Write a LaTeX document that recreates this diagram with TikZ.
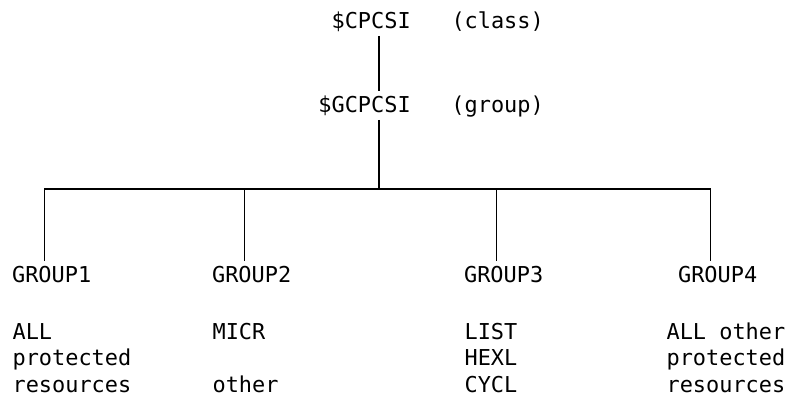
\documentclass[tikz,border=0pt]{standalone}
\usepackage{fontspec}
\setmonofont{DejaVu Sans Mono}
\usetikzlibrary{positioning}
\tikzset{
	lbl/.style = {font=\ttfamily\fontsize{21.9}{26.5}\selectfont, inner xsep=0pt, inner ysep=4pt, anchor=base west},
	desc/.style = {lbl, align=left}
}

\begin{document}
\begin{tikzpicture}[x=1pt, y=-1pt, line width=1.2pt]
\useasboundingbox (0,0) rectangle (787,402);

% NODES

% class, group
\node (cpcsi) [lbl] at (331,28) {\$CPCSI};
\node (classlbl) [lbl, right=39.6pt of cpcsi.base east, anchor=base west] {(class)};
\node (gcpcsi) [lbl] at (317.8,112) {\$GCPCSI};
\node (grouplbl) [lbl, right=39.6pt of gcpcsi.base east, anchor=base west] {(group)};
\coordinate (bus) at (379,189);

% groups
\node (g1) [lbl] at (11.5,282) {GROUP1};
\node (g2) [lbl] at (211.5,282) {GROUP2};
\node (g3) [lbl] at (463.5,282) {GROUP3};
\node (g4) [lbl] at (677.5,282) {GROUP4};

% resources (base = last line)
\node (g1res) [desc] at (12,392) {ALL\\protected\\resources};
\node (g2res) [desc] at (212,392) {MICR\\[26.5pt]other};
\node (g3res) [desc] at (464,392) {LIST\\HEXL\\CYCL};
\node (g4res) [desc] at (666,392) {ALL other\\protected\\resources};

%CONNECTIONS
\draw (cpcsi.south -| bus) -- (gcpcsi.north -| bus);
\draw (gcpcsi.south -| bus) -- (bus);
\draw ([xshift=33pt]g1.north west) |- ([xshift=33pt]g4.north west |- bus) -- ([xshift=33pt]g4.north west);
\draw ([xshift=33pt]g2.north west) -- ([xshift=33pt]g2.north west |- bus);
\draw ([xshift=33pt]g3.north west) -- ([xshift=33pt]g3.north west |- bus);

\end{tikzpicture}
\end{document}
